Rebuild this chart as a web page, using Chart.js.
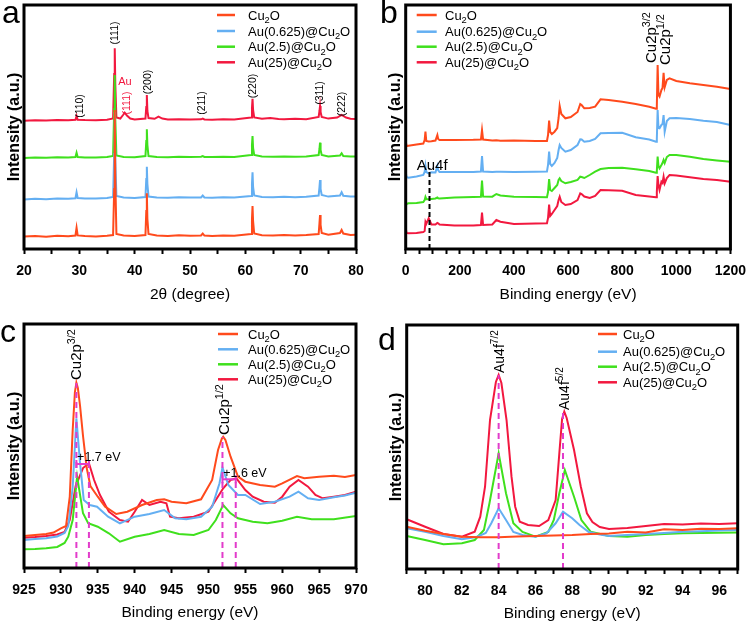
<!DOCTYPE html>
<html><head><meta charset="utf-8">
<script src="https://cdn.jsdelivr.net/npm/chart.js@4.4.1/dist/chart.umd.min.js"></script>
<style>
html,body{margin:0;padding:0;background:#fff;}
#wrap{position:relative;width:755px;height:625px;background:#fff;}
canvas{position:absolute;}
</style></head><body>
<div id="wrap">
<canvas id="ca" width="377" height="312" style="left:0;top:0"></canvas>
<canvas id="cb" width="378" height="312" style="left:377px;top:0"></canvas>
<canvas id="cc" width="377" height="313" style="left:0;top:312px"></canvas>
<canvas id="cd" width="378" height="313" style="left:377px;top:312px"></canvas>
</div>
<script>
// ---------- shared ----------
const legendNames = ['Cu_{2}O','Au(0.625)@Cu_{2}O','Au(2.5)@Cu_{2}O','Au(25)@Cu_{2}O'];
const seriesColors = ['#ff4a1c','#64aff2','#3fe01d','#f2183f'];
const markColor = '#e23ccb';

// ---------- (a) XRD ----------
const xrdTickVals = [20,25,30,35,40,45,50,55,60,65,70,75,80];
const xrdTickLabels = ['20','','30','','40','','50','','60','','70','','80'];
const xrdTwoTheta = [20,22,24,26,28, 29.3,29.5,29.7, 31,33,35, 36.1,36.3,36.4,36.5,36.7, 38,40, 41.95,42.1,42.2,42.3,42.5, 44,46,48,50,52, 52.3,52.6, 54,56,58, 61.05,61.2,61.3,61.4,61.6, 63,65,67,69,71, 73.25,73.4,73.5,73.6,73.8, 75, 77.1,77.4,77.7, 79,80];
const xrdCu2O = [12.5,13,12.3,13.2,12.8, 13.5,21.3,13.6, 13,12.6,13.2, 14,60,139,70,15, 13.4,13, 14,38,55.7,30,15, 13.5,13,13.8,13.2,13.6, 15.5,13.4, 13,13.6,13.3, 15,30,43,28,15.5, 13.8,13.5,14,13.4,14, 15,26,34,24,16, 14.2, 16,19,15.5, 14,14.2];
const xrdAu0625 = [49.5,50.2,49.8,50.5,50.3, 50.8,56.7,51, 50.6,50.4,51, 52,95,137,90,53, 51.4,51, 52,70,82.3,65,52.5, 51.5,51.2,51.8,51.4,51.6, 53.5,51.6, 51.3,51.8,51.6, 53,65,76.7,62,53.5, 52,51.8,52.2,51.8,52.2, 53.5,62,69,60,54, 52.4, 53.5,56.7,53.2, 52.4,52.5];
const xrdAu2_5 = [91,91.6,91.2,91.8,91.5, 92,96.3,92, 91.6,91.4,91.9, 93,140,174,130,93.5, 92,91.8, 93,108,119.7,104,93, 92,91.8,92.2,92,92.3, 93,92.1, 91.9,92.3,92.1, 94,104,113,101,94, 92.5,92.2,92.6,92.2,92.5, 94,100,106.3,99,94, 92.6, 93.5,95.7,93, 92.4,92.5];
const xrdAu25TwoTheta = [20,22,24,26,28, 29.3,29.5,29.7, 31,33,35, 36.1,36.3,36.4,36.5,36.7, 37.4,37.9,38.2,38.6,39.2, 40, 41.95,42.1,42.2,42.3,42.5, 43.6,44.3,45.0, 46,48,50,52, 52.3,52.6, 54,56,58, 61.05,61.2,61.3,61.4,61.6, 63,64.5,66,67,69,71, 73.25,73.4,73.5,73.6,73.8, 75, 76.6,77.4,78.2, 79,80];
const xrdAu25 = [128.3,128.8,128.5,129,128.7, 129.2,133,129.3, 128.9,128.7,129.2, 130.5,175,200.7,165,131.5, 130.5,134,136.3,133.5,130.4, 129.5, 130.5,142,154,138,131, 130.2,132.3,130.4, 129.6,129.8,129.4,129.7, 130.5,129.6, 129.3,129.8,129.6, 131.5,141,150.3,139,131.5, 130.2,131,130,129.8,130.2,129.8, 132,138,143,137,132, 130.4, 131.5,134,131.5, 130.3,130];
const xrdPeakLabels = ['(110)','(111)','(200)','(211)','(220)','(311)','(222)'];
const xrdPeakPos = [30.0,36.3,42.2,52.1,61.3,73.4,77.4];
const xrdPeakLabelY = [143,216,167,146,163,156,145];

// ---------- (b) survey XPS ----------
const surveyTickVals = [0,50,100,150,200,250,300,350,400,450,500,550,600,650,700,750,800,850,900,950,1000,1050,1100,1150,1200];
const surveyTickLabels = ['0','','','','200','','','','400','','','','600','','','','800','','','','1000','','','','1200'];
const surveyBE = [0,3,10,40,65, 70,73,76,85,95, 110,117,120,125,180, 250,278,282,286,320, 335,350,400,480,522, 526,530,534,540,550, 560,565,569,575,590, 610,635,645,650,660, 680,700,720,750,800, 850,900,925,928,931, 934,938,945,949,953, 957,965,975,1000,1050, 1100,1150,1200];
const surveyCu2O = [108,103,103.3,104.5,105.5, 109,117.3,108,107.5,107.8, 108.5,114,110,109,109, 109.2,109.5,119,109.5,108.5, 108.7,108.3,108.5,108,108, 114,128.3,117,115,117.3, 121,131,143,135,130.7, 132,137,145,144,140.7, 141,142.3,149.7,149,147.3, 145,142.3,140.3,143,184, 154,152.3,159,161,176.3, 161.7,169,170.7,168,165.7, 164,162.3,160];
const surveyAu0625 = [77,72,71.3,72.5,74, 77,83,77,75.7,76.8, 76.5,83,79,77,77, 77,77.5,93,77.5,77, 77.3,77.2,77,77.3,77.5, 84,97.3,85,83,86, 91,99,104,101,97.3, 99,104,109.7,109.5,107.3, 108,110,115.7,116,116.3, 111.7,109.5,107.3,110,139, 121,120.7,124,125,134, 117.3,128,130.7,131,130, 128.3,127,124];
const surveyAu2_5 = [43,45,45.7,46,47, 49,52,50,49.7,50, 50.5,51.5,50.7,50.5,51.5, 52,52.3,68.5,52.5,52.3, 55,53.5,52.3,52,51.7, 57,70,59,58,61, 64,69,70.7,68,65.7, 67,69,72.3,72,71, 74,77.3,80,81,81.3, 79.7,78,76.3,78,92.5, 83,80.7,84,86,89, 86,92,94,94,92.3, 90,88.5,87.3];
const surveyAu25 = [21,16,15.7,16,17, 18,27,25,30.7,24.5, 24.5,26,25.7,24.5,23.5, 23.5,24,36.5,24,24.5, 29,27.3,25,25.5,25.7, 31,44.5,33,35,39, 43,49,52.3,47,44, 45,49,55.7,55,52.5, 51,53,59,58.7,58.3, 54,52.5,51.7,57,73, 64,59,67.3,66,72.3, 65.7,71,74,73.5,71.7, 70,69,67.3];
const surveyAu4fMark = 88, surveyAu4fTop = 81;

// ---------- (c) Cu 2p ----------
const cu2pTickVals = [925,930,935,940,945,950,955,960,965,970];
const cu2pTickLabels = ['925','930','935','940','945','950','955','960','965','970'];
const cu2pBE_Cu2O = [925,926.5,928,929,930, 930.7,931.2,931.6,931.9,932.1,932.3,932.6, 933,933.5,934,935,936, 937.5,939,941,943,944, 945,947,949,950.5,951.3, 951.8,952,952.3,953,954,955,957, 959,960,962,963,965, 967,968.5,970];
const cu2p_Cu2O = [32,33,34,35.5,39.7, 42,71,138,176,185.3,180,162, 132,100,82,71.3,61.3, 54,56.3,63,68,68.7, 66.3,64.7,68.7,88,118, 129,131.3,128,111.3,91.3,86.3,83, 81.3,84.7,92,89.7,91.3, 92.3,91,93];
const cu2pBE_Au0625 = [925,926.5,928,929.5,930.5, 931,931.6,932.1,932.6,933.1, 933.9,934.9,936.4,938,940, 942,944,945.5,947,949, 950.5,951.5,951.9,952.7,954, 955,957,959,961,962.2, 963.5,965,967,968.5,970];
const cu2p_Au0625 = [28,29,29.7,31.5,35, 42,81,149.7,104.7,68, 63,61.3,51.3,44.7,51.3, 54,58,49.7,48.7,51.3, 61.3,84.7,100.5,83,73, 73,64,66.3,71.3,76.3, 69.7,68,70.7,72.5,75.3];
const cu2pBE_Au2_5 = [925,926.5,928,929.5,930.5, 931,931.6,932.2,933,933.7, 935,936.5,938,940,942, 944,946,948,950,951, 952,953,954,956,958, 960,962,964,967,970];
const cu2p_Au2_5 = [18.7,19,19.7,21,25, 31.3,48,91.3,54.7,44.7, 41.3,34.7,26.3,31.3,34, 38,34,33,38,48, 63,54.7,49.7,46.3,44.7, 47.3,51.3,48.7,48.7,52];
const cu2pBE_Au25 = [925,926.5,928,929.5,930.5, 931.2,932,933,933.8,934.5, 935.3,936.5,938,939.1,940, 941,942,943.5,944.3,944.8, 946,948,950,951,952, 953,953.8,955,956,957.5, 959,960,961,962.2,963.5, 964.5,965.5,967,968.5,970];
const cu2p_Au25 = [30.3,31,32,33.5,36, 48,82,100,104.7,88, 73,56.3,48,46.3,56.3, 68,63,66.3,64.7,51.3, 49.7,51.3,56.3,68,79.7, 88,89.7,78,71.3,66.3, 65.3,71.3,81.3,88,81.3, 73,69.7,71.3,73,76.3];
const cu2pMarkBE = [932.1,933.8,951.9,953.7];
const cu2pMarkTop = [185,104,131,89];
const cu2pShiftFrom = [932.1,951.9], cu2pShiftTo = [933.8,953.7], cu2pShiftY = [104,88.7];
const cu2pShiftText = ['+1.7 eV','+1.6 eV'];

// ---------- (d) Au 4f ----------
const au4fTickVals = [79,80,81,82,83,84,85,86,87,88,89,90,91,92,93,94,95,96,97];
const au4fTickLabels = ['','80','','82','','84','','86','','88','','90','','92','','94','','96',''];
const au4fBE_Cu2O = [79,80,81,82,83,84,85,86,87,88,89,90,91,92,93,94,95,96,97];
const au4f_Cu2O = [42.3,38.3,35,32.3,31.7,31.7,32.5,33,33.5,34,35,35.5,37.3,36.5,39.7,39,40.3,40,40.7];
const au4fBE_Au0625 = [79,80,81,82,82.8, 83.3,83.6,84,84.4,84.8, 85.3,86,86.6,87.1,87.5, 88,88.4,88.9,89.5,90, 91,92,93,94,95, 96,97];
const au4f_Au0625 = [40.7,37.3,33,29.7,32, 36,45.7,60.7,49,37, 34,32.3,35.7,45.7,57.3, 50.7,44,37,34.5,33, 34,35,36,37.3,37.8, 38.5,39];
const au4fBE_Au2_5 = [79,80,81,82,82.7, 83.2,83.5,84,84.4,84.8, 85.3,86,86.7,87.0,87.3, 87.6,88.1,88.5,89,90, 91,92,93,94,95, 96,97];
const au4f_Au2_5 = [33,29,24.7,25.7,29, 39,65.7,115.7,75.7,45.7, 37,32.3,37,49,75.7, 99,72.3,49,37.3,33, 32.3,34,35,35.7,36, 36.3,36.5];
const au4fBE_Au25 = [79,80,81,82,82.7, 83.0,83.26,83.53,83.85,84.0,84.15,84.43, 84.7,84.9,85.15,85.6,86.2, 86.7,87.1,87.3,87.45,87.57,87.7,88.1, 88.47,88.8,89.1,89.5,90, 91,92,93,94,95, 96,97];
const au4f_Au25 = [49.7,42.3,35,32.3,37.3, 52.3,82.3,149,187,194,186,149, 92.3,62.3,47.3,44,43, 49,69,115.7,150,157.3,151,119, 82.3,55.7,47,42,40, 41,43,45,44.5,45.5, 45,45.7];
const au4fMarkBE = [84.0,87.5];
const au4fMarkTop = [194,159];

// ---------- helpers ----------
const FONT = "'Liberation Sans', Arial, Helvetica, sans-serif";
function parseRich(s){const out=[];let i=0,buf='';while(i<s.length){const c=s[i];if((c==='_'||c==='^')&&s[i+1]==='{'){if(buf){out.push({t:buf,m:0});buf='';}const j=s.indexOf('}',i);out.push({t:s.slice(i+2,j),m:c==='_'?-1:1});i=j+1;}else{buf+=c;i++;}}if(buf)out.push({t:buf,m:0});return out;}
function richWidth(ctx,s,size,weight){let w=0;for(const g of parseRich(s)){const fs=g.m?size*0.72:size;ctx.font=(weight||'normal')+' '+fs+'px '+FONT;w+=ctx.measureText(g.t).width;}return w;}
function drawRich(ctx,s,x,y,size,color,weight){ctx.fillStyle=color;ctx.textBaseline='alphabetic';ctx.textAlign='left';let cx=x;for(const g of parseRich(s)){const fs=g.m?size*0.72:size;ctx.font=(weight||'normal')+' '+fs+'px '+FONT;const dy=g.m===-1?size*0.24:(g.m===1?-size*0.42:0);ctx.fillText(g.t,cx,y+dy);cx+=ctx.measureText(g.t).width;}return cx-x;}
function drawRot(ctx,s,px,py,size,color,centred){ctx.save();ctx.translate(px,py);ctx.rotate(-Math.PI/2);const w=richWidth(ctx,s,size);drawRich(ctx,s,centred?-w/2:0,size*0.36,size,color);ctx.restore();}
function drawLegend(ctx,x0,x1,tx,ys,size){for(let i=0;i<4;i++){ctx.strokeStyle=seriesColors[i];ctx.lineWidth=2.5;ctx.beginPath();ctx.moveTo(x0,ys[i]);ctx.lineTo(x1,ys[i]);ctx.stroke();drawRich(ctx,legendNames[i],tx,ys[i]+size*0.36,size,'#000');}}
function series(xs,ys,color){return {data:xs.map((x,i)=>({x:x,y:ys[i]})),borderColor:color,borderWidth:2,pointRadius:0,fill:false,tension:0};}
function vline(x,top,color,dash){return {data:[{x:x,y:0},{x:x,y:top}],borderColor:color,borderWidth:2,borderDash:dash,pointRadius:0,fill:false,order:-1};}
function hbar(x0,x1,y,color){return {data:[{x:x0,y:y},{x:x1,y:y}],borderColor:color,borderWidth:2,pointRadius:4,pointHoverRadius:4,pointStyle:'line',rotation:90,pointBorderColor:color,pointBorderWidth:2,fill:false,order:-2};}

const framePlugin={id:'frame',afterDatasetsDraw(chart){const {ctx,chartArea:a}=chart;ctx.save();ctx.lineWidth=3;ctx.strokeStyle='#000';ctx.strokeRect(a.left,a.top,a.right-a.left,a.bottom-a.top);ctx.restore();}};

function makeChart(id,c){
  return new Chart(document.getElementById(id),{
    type:'line',
    data:{datasets:c.datasets},
    options:{
      responsive:false,animation:false,events:[],
      layout:{padding:{left:0,top:c.T,right:c.R,bottom:0}},
      plugins:{legend:{display:false},tooltip:{enabled:false}},
      scales:{
        x:{type:'linear',min:c.min,max:c.max,
          afterBuildTicks:s=>{s.ticks=c.tickVals.map(v=>({value:v}));},
          ticks:{autoSkip:false,maxRotation:0,minRotation:0,padding:c.tickPad,color:'#000',
            font:{family:FONT,size:14,weight:'bold'},callback:(v,i)=>c.tickLabels[i]},
          grid:{display:true,drawOnChartArea:false,drawTicks:true,tickLength:5,tickWidth:2,tickColor:'#000'},
          border:{display:false},
          title:{display:true,text:c.xTitle,color:'#000',font:{family:FONT,size:15.5},padding:{top:0,bottom:c.xPad}},
          afterFit:s=>{s.height=c.Hx;}},
        y:{type:'linear',min:0,max:244,
          ticks:{display:false},grid:{display:false},border:{display:false},
          title:{display:true,text:'Intensity (a.u.)',color:'#000',font:{family:FONT,size:16,weight:'bold'},padding:{top:c.yPad,bottom:0}},
          afterFit:s=>{s.width=c.L;}}
      }
    },
    plugins:[framePlugin,{id:'annot',afterDraw(chart){const ctx=chart.ctx;ctx.save();c.annotate(ctx,v=>chart.scales.x.getPixelForValue(v),v=>chart.scales.y.getPixelForValue(v));ctx.restore();}}]
  });
}
function letter(ctx,t,x,y){ctx.fillStyle='#000';ctx.font='normal 32px '+FONT;ctx.textBaseline='alphabetic';ctx.textAlign='left';ctx.fillText(t,x,y);}

// ---------- panel a ----------
makeChart('ca',{
  datasets:[series(xrdTwoTheta,xrdCu2O,seriesColors[0]),series(xrdTwoTheta,xrdAu0625,seriesColors[1]),series(xrdTwoTheta,xrdAu2_5,seriesColors[2]),series(xrdAu25TwoTheta,xrdAu25,seriesColors[3])],
  min:20,max:80,tickVals:xrdTickVals,tickLabels:xrdTickLabels,xTitle:'2θ (degree)',
  L:24,T:5,R:21,Hx:63,yPad:5.4,xPad:7.7,tickPad:9,
  annotate(ctx,sx,sy){
    for(let i=0;i<xrdPeakLabels.length;i++) drawRot(ctx,xrdPeakLabels[i],sx(xrdPeakPos[i]),sy(xrdPeakLabelY[i]),10.5,'#000',true);
    ctx.font='normal 11px '+FONT;ctx.fillStyle='#f2183f';ctx.textAlign='center';ctx.textBaseline='middle';ctx.fillText('Au',sx(38.25),sy(167));
    drawRot(ctx,'(111)',sx(38.4),sy(146),10.5,'#f2183f',true);
    drawLegend(ctx,217,235,248,[15,31,46.7,62.3],13);
    letter(ctx,'a',2,23);
  }
});

// ---------- panel b ----------
makeChart('cb',{
  datasets:[vline(surveyAu4fMark,surveyAu4fTop,'#000',[5,3]),series(surveyBE,surveyCu2O,seriesColors[0]),series(surveyBE,surveyAu0625,seriesColors[1]),series(surveyBE,surveyAu2_5,seriesColors[2]),series(surveyBE,surveyAu25,seriesColors[3])],
  min:0,max:1200,tickVals:surveyTickVals,tickLabels:surveyTickLabels,xTitle:'Binding energy (eV)',
  L:28.7,T:5,R:18.3,Hx:63,yPad:9.1,xPad:7.7,tickPad:9,
  annotate(ctx,sx,sy){
    drawRot(ctx,'Cu2p^{3/2}',sx(906.5),sy(186),15,'#000',false);
    drawRot(ctx,'Cu2p^{1/2}',sx(958.3),sy(184),15,'#000',false);
    const w=richWidth(ctx,'Au4f',15);drawRich(ctx,'Au4f',sx(97.9)-w/2,sy(79),15,'#000');
    drawLegend(ctx,39.7,59.7,68,[15,31.7,46.7,62.3],13);
    letter(ctx,'b',3,23);
  }
});

// ---------- panel c ----------
const cDatasets=[];
for(let i=0;i<2;i++) cDatasets.push(hbar(cu2pShiftFrom[i],cu2pShiftTo[i],cu2pShiftY[i],markColor));
for(let i=0;i<cu2pMarkBE.length;i++) cDatasets.push(vline(cu2pMarkBE[i],cu2pMarkTop[i],markColor,[6,4]));
cDatasets.push(series(cu2pBE_Cu2O,cu2p_Cu2O,seriesColors[0]),series(cu2pBE_Au0625,cu2p_Au0625,seriesColors[1]),series(cu2pBE_Au2_5,cu2p_Au2_5,seriesColors[2]),series(cu2pBE_Au25,cu2p_Au25,seriesColors[3]));
makeChart('cc',{
  datasets:cDatasets,
  min:925,max:970,tickVals:cu2pTickVals,tickLabels:cu2pTickLabels,xTitle:'Binding energy (eV)',
  L:24,T:12,R:21,Hx:57,yPad:5.4,xPad:2.7,tickPad:9,
  annotate(ctx,sx,sy){
    drawRot(ctx,'Cu2p^{3/2}',sx(932.05),sy(188),15,'#000',false);
    drawRot(ctx,'Cu2p^{1/2}',sx(952.1),sy(133),15,'#000',false);
    drawRich(ctx,cu2pShiftText[0],sx(932.2),sy(111.3)+4.5,12.5,'#000');
    drawRich(ctx,cu2pShiftText[1],sx(952.0),sy(96)+4.5,12.5,'#000');
    drawLegend(ctx,218,238,248,[22,37.3,52.3,67.3],13);
    letter(ctx,'c',0,30);
  }
});

// ---------- panel d ----------
const dDatasets=[];
for(let i=0;i<au4fMarkBE.length;i++) dDatasets.push(vline(au4fMarkBE[i],au4fMarkTop[i],markColor,[6,4]));
dDatasets.push(series(au4fBE_Cu2O,au4f_Cu2O,seriesColors[0]),series(au4fBE_Au0625,au4f_Au0625,seriesColors[1]),series(au4fBE_Au2_5,au4f_Au2_5,seriesColors[2]),series(au4fBE_Au25,au4f_Au25,seriesColors[3]));
makeChart('cd',{
  datasets:dDatasets,
  min:79,max:97,tickVals:au4fTickVals,tickLabels:au4fTickLabels,xTitle:'Binding energy (eV)',
  L:29.7,T:13,R:17.3,Hx:56,yPad:10.1,xPad:1.7,tickPad:9,
  annotate(ctx,sx,sy){
    drawRot(ctx,'Au4f^{7/2}',sx(84.02),sy(196),14,'#000',false);
    drawRot(ctx,'Au4f^{5/2}',sx(87.53),sy(159),14,'#000',false);
    drawLegend(ctx,221,240,246,[22,39.7,54.7,70.3],13);
    letter(ctx,'d',1,38);
  }
});
</script>
</body></html>
